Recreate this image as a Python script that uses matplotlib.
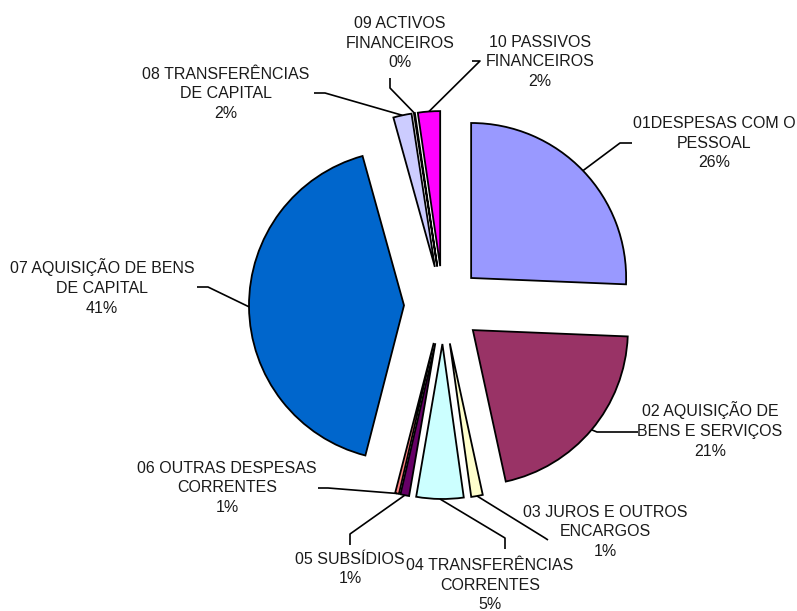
import numpy as np
import matplotlib.pyplot as plt

# Data (clockwise from 12 o'clock)
categories = ['01DESPESAS COM O\nPESSOAL',
              '02 AQUISIÇÃO DE\nBENS E SERVIÇOS',
              '03 JUROS E OUTROS\nENCARGOS',
              '04 TRANSFERÊNCIAS\nCORRENTES',
              '05 SUBSÍDIOS',
              '06 OUTRAS DESPESAS\nCORRENTES',
              '07 AQUISIÇÃO DE BENS\nDE CAPITAL',
              '08 TRANSFERÊNCIAS\nDE CAPITAL',
              '09 ACTIVOS\nFINANCEIROS',
              '10 PASSIVOS\nFINANCEIROS']
shares = [25.6, 20.9, 1.2, 4.9, 0.9, 0.4, 41.6, 1.9, 0.1, 2.3]
pct_labels = ['26%', '21%', '1%', '5%', '1%', '1%', '41%', '2%', '0%', '2%']
colors = ['#9999FF', '#993366', '#FFFFCC', '#CCFFFF', '#660066',
          '#FF8080', '#0066CC', '#CCCCFF', '#000080', '#FF00FF']

W, H = 797, 611
plt.rcParams['font.family'] = ['Liberation Sans', 'DejaVu Sans']

fig = plt.figure(figsize=(W / 100, H / 100), dpi=100)
ax = fig.add_axes([0, 0, 1, 1])

# axes units are pixels, so the explode offset is in pixels too
wedges, _ = ax.pie(shares, colors=colors, startangle=90, counterclock=False,
                   center=(443, H - 305), radius=155,
                   explode=[39] * len(shares),
                   wedgeprops=dict(edgecolor='black', linewidth=1.3))
ax.set_xlim(0, W)
ax.set_ylim(0, H)
ax.set_aspect('equal')
ax.axis('off')

# label layout in pixel coords: text centre, elbow point, stub end
text_pos = [(714, 143), (710, 430), (605, 532), (490, 585), (350, 569),
            (227, 488), (102, 287), (226, 94), (400, 43), (540, 62)]
elbows = [(620, 143), (597, 432), (545, 538), (505, 538), (350, 534),
          (328, 488), (208, 287), (325, 93), (390, 88), (480, 61)]
stubs = [(632, 143), (638, 432), (548, 540), (505, 549), (350, 545),
         (318, 488), (197, 287), (314, 93), (390, 78), (472, 61)]

for w, lab, pct, tp, el, st in zip(wedges, categories, pct_labels,
                                    text_pos, elbows, stubs):
    mid = np.deg2rad((w.theta1 + w.theta2) / 2)
    cx, cy = w.center
    sx, sy = cx + w.r * np.cos(mid), cy + w.r * np.sin(mid)
    ax.plot([sx, el[0], st[0]], [sy, H - el[1], H - st[1]],
            color='black', linewidth=1.2, solid_capstyle='butt')
    ax.text(tp[0], H - tp[1], lab + '\n' + pct, ha='center', va='center',
            multialignment='center', fontsize=11.5, linespacing=1.4,
            color='#1a1a1a')

fig.savefig('out.png', dpi=100)
